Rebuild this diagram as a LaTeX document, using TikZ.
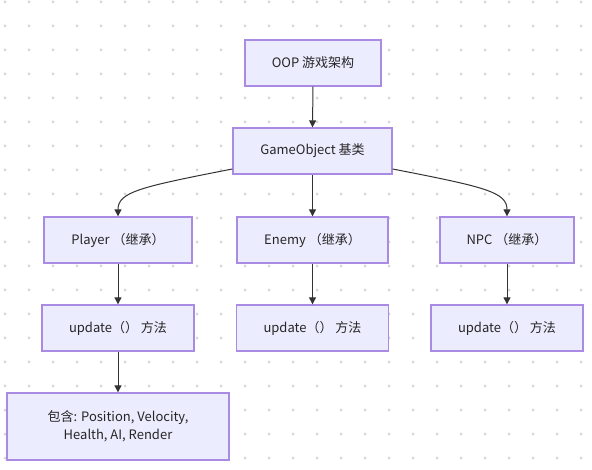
\documentclass[tikz,border=0pt]{standalone}
\usepackage{fontspec}
\setmainfont{Noto Sans CJK SC}
\usetikzlibrary{arrows.meta}
\definecolor{boxfill}{HTML}{ECECFF}
\definecolor{boxline}{HTML}{A98BE3}
\definecolor{edge}{HTML}{333333}
\definecolor{dotc}{HTML}{D4D4D4}
\tikzset{
  box/.style={draw=boxline, fill=boxfill, line width=1.3pt, inner sep=0pt, align=center,
    font=\fontsize{13}{18}\selectfont, text=black!85},
  link/.style={draw=edge, line width=1pt, -{Triangle[length=7pt,width=7pt]}}
}
\begin{document}
\begin{tikzpicture}[x=1pt,y=-1pt]
\useasboundingbox (0,0) rectangle (592,470);
\fill[white] (0,0) rectangle (592,470);
\foreach \i in {0,...,24}{
  \foreach \j in {0,...,19}{
    \fill[dotc] ({5+24*\i},{2+24*\j}) circle (1.5pt);
  }
}
\node[box, minimum width=136pt, minimum height=46pt] (oop) at (313,63) {OOP 游戏架构};
\node[box, minimum width=159pt, minimum height=46pt] (go) at (312.5,151) {GameObject 基类};
\node[box, minimum width=148pt, minimum height=46pt] (player) at (118,240) {Player （继承）};
\node[box, minimum width=151pt, minimum height=46pt] (enemy) at (312.5,240) {Enemy （继承）};
\node[box, minimum width=134pt, minimum height=46pt] (npc) at (507,240) {NPC （继承）};
\node[box, minimum width=152pt, minimum height=46pt] (u1) at (118,328) {update（） 方法};
\node[box, minimum width=152pt, minimum height=46pt] (u2) at (312.5,328) {update（） 方法};
\node[box, minimum width=152pt, minimum height=46pt] (u3) at (507,328) {update（） 方法};
\node[box, minimum width=222pt, minimum height=67pt] (inc) at (118,426.5) {包含: Position, Velocity,\\Health, AI, Render};
\draw[link] (oop.south) -- (go.north);
\draw[link] (go.south) -- (enemy.north);
\draw[link] ([yshift=-18pt]go.west) .. controls (140,187) and (118,192) .. (player.north);
\draw[link] ([yshift=-18pt]go.east) .. controls (485,187) and (507,192) .. (npc.north);
\draw[link] (player.south) -- (u1.north);
\draw[link] (enemy.south) -- (u2.north);
\draw[link] (npc.south) -- (u3.north);
\draw[link] (u1.south) -- (inc.north);
\end{tikzpicture}
\end{document}
